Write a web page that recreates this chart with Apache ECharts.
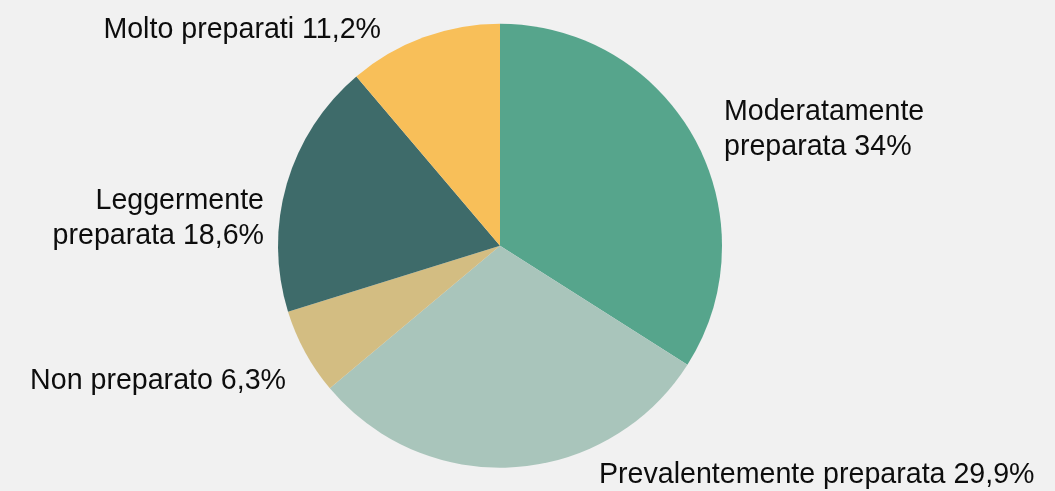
<!DOCTYPE html>
<html>
<head>
<meta charset="utf-8">
<script src="https://cdn.jsdelivr.net/npm/echarts@6/dist/echarts.min.js"></script>
<style>
html,body{margin:0;padding:0;background:#f1f1f1;}
#chart{width:1055px;height:491px;}
</style>
</head>
<body>
<div id="chart"></div>
<script>
const categories = ['Moderatamente preparata', 'Prevalentemente preparata', 'Non preparato', 'Leggermente preparata', 'Molto preparati'];
const values = [34, 29.9, 6.3, 18.6, 11.2];
const colors = ['#56a58c', '#a9c5bb', '#d3bd82', '#3e6b6a', '#f8bf59'];
const wrapLabel = [true, false, false, true, false];

// label anchor positions: [x, y, align]
const labelAnchors = [
  [724, 129.5, 'left'],
  [599, 475.5, 'left'],
  [286, 381, 'right'],
  [264, 218.5, 'right'],
  [381, 30, 'right']
];

function fmtPct(v) {
  return String(v).replace('.', ',') + '%';
}

const chart = echarts.init(document.getElementById('chart'), null, {renderer: 'canvas'});
chart.setOption({
  backgroundColor: '#f1f1f1',
  animation: false,
  series: [{
    type: 'pie',
    center: [500, 245.7],
    radius: 222,
    startAngle: 90,
    clockwise: true,
    avoidLabelOverlap: false,
    data: categories.map((c, i) => ({name: c, value: values[i], itemStyle: {color: colors[i]}})),
    itemStyle: {borderWidth: 0},
    emphasis: {disabled: true},
    labelLine: {show: false},
    label: {
      show: true,
      position: 'outside',
      color: '#0d0d0d',
      fontFamily: '"Liberation Sans", Arial, Helvetica, sans-serif',
      fontSize: 28.6,
      lineHeight: 35,
      formatter: function (p) {
        const name = wrapLabel[p.dataIndex] ? p.name.replace(' ', '\n') : p.name;
        return name + ' ' + fmtPct(p.value);
      }
    },
    labelLayout: function (params) {
      const a = labelAnchors[params.dataIndex];
      return {x: a[0], y: a[1], align: a[2], verticalAlign: 'middle'};
    }
  }]
});
</script>
</body>
</html>
